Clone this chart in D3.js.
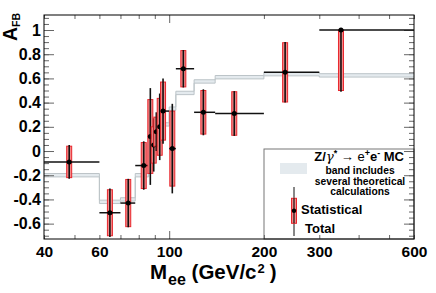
<!DOCTYPE html>
<html>
<head>
<meta charset="utf-8">
<script src="https://cdn.jsdelivr.net/npm/d3@7"></script>
<style>
  body { margin: 0; background: #fff; }
  svg { display: block; font-family: "Liberation Sans", Arial, Helvetica, sans-serif; font-weight: bold; }
</style>
</head>
<body>
<div class="canvas"></div>
<script>
// mass bins (GeV/c^2)
const binLow  = [40, 60, 70, 78, 86, 88, 90, 92, 94, 100, 105, 120, 140, 200, 300]
const binHigh = [60, 70, 78, 86, 88, 90, 92, 94, 100, 105, 120, 140, 200, 300, 600]
// mean mass in each bin (where the point sits)
const massMean = [48.1, 64.8, 74.1, 83.0, 87.1, 89.3, 91.0, 93.3, 95.6, 102.3, 110.9, 128.4, 161, 233.6, 351.6]
// measured A_FB
const afb     = [-0.09, -0.51, -0.43, -0.12, 0.12, 0.05, 0.16, 0.20, 0.33, 0.02, 0.68, 0.32, 0.31, 0.65, 1.0]
const statErr = [0.13, 0.19, 0.195, 0.19, 0.305, 0.15, 0.12, 0.235, 0.24, 0.31, 0.15, 0.18, 0.18, 0.245, 0.5]
const totErr  = [0.14, 0.20, 0.20, 0.20, 0.40, 0.22, 0.16, 0.275, 0.27, 0.37, 0.155, 0.19, 0.185, 0.25, 0.51]
// MC prediction band (centre per bin)
const mcBand  = [-0.20, -0.42, -0.40, -0.20, -0.12, -0.03, 0.05, 0.12, 0.22, 0.35, 0.48, 0.575, 0.61, 0.635, 0.625]
const bandHalf = 0.014

// axis ticks
const yMajor = [-0.6, -0.4, -0.2, 0, 0.2, 0.4, 0.6, 0.8, 1]
const yMinor = d3.range(-0.7, 1.11, 0.05).map(v => +v.toFixed(2))
const xTicks = [40, 50, 60, 70, 80, 90, 100, 200, 300, 400, 500, 600]
const xLabels = [40, 60, 100, 200, 300, 600]

// dimension
const dims = { width: 436, height: 293 }
const margin = { left: 44, top: 15, right: 22, bottom: 54 }
const plotW = dims.width - margin.left - margin.right
const plotH = dims.height - margin.top - margin.bottom

const svg = d3.select('.canvas')
  .append('svg')
  .attr('width', dims.width)
  .attr('height', dims.height)

const x = d3.scaleLog().domain([40, 600]).range([margin.left, margin.left + plotW])
const y = d3.scaleLinear().domain([-0.727, 1.124]).range([margin.top + plotH, margin.top])

const points = massMean.map((m, i) => ({
  m, lo: binLow[i], hi: binHigh[i], v: afb[i], stat: statErr[i], tot: totErr[i]
}))

// MC band as a step shape
const stepPts = []
binLow.forEach((lo, i) => {
  stepPts.push({ m: lo, v: mcBand[i] })
  stepPts.push({ m: binHigh[i], v: mcBand[i] })
})

const band = svg.append('g')
band.append('path')
  .datum(stepPts)
  .attr('fill', '#e4eaee')
  .attr('d', d3.area().x(d => x(d.m)).y0(d => y(d.v - bandHalf)).y1(d => y(d.v + bandHalf)))
;[bandHalf, -bandHalf].forEach(off => {
  band.append('path')
    .datum(stepPts)
    .attr('fill', 'none')
    .attr('stroke', '#bcc4c8')
    .attr('stroke-width', 1)
    .attr('d', d3.line().x(d => x(d.m)).y(d => y(d.v + off)))
})

// legend box (drawn under the frame)
const legend = svg.append('g')
legend.append('rect')
  .attr('x', 264).attr('y', 149)
  .attr('width', margin.left + plotW - 264).attr('height', margin.top + plotH - 149)
  .attr('fill', '#fff').attr('stroke', '#777').attr('stroke-width', 1)

// axes: ticks inside the frame
const fmt = d => String(+d.toFixed(1))
const yAxisL = svg.append('g').attr('transform', `translate(${margin.left},0)`)
  .call(d3.axisLeft(y).tickValues(yMajor).tickSize(-10).tickPadding(3).tickFormat(fmt))
yAxisL.append('g')
  .call(d3.axisLeft(y).tickValues(yMinor).tickSize(-5).tickFormat(''))
const yAxisR = svg.append('g').attr('transform', `translate(${margin.left + plotW},0)`)
  .call(d3.axisRight(y).tickValues(yMajor).tickSize(-10).tickFormat(''))
yAxisR.append('g')
  .call(d3.axisRight(y).tickValues(yMinor).tickSize(-5).tickFormat(''))

const xAxisB = svg.append('g').attr('transform', `translate(0,${margin.top + plotH})`)
  .call(d3.axisBottom(x).tickValues(xTicks).tickSize(-4).tickPadding(7)
    .tickFormat(d => xLabels.includes(d) ? d : ''))
const xAxisT = svg.append('g').attr('transform', `translate(0,${margin.top})`)
  .call(d3.axisTop(x).tickValues(xTicks).tickSize(-4).tickFormat(''))
;[xAxisB, xAxisT].forEach(g => {
  g.selectAll('.tick line').filter(d => d === 100).attr('y2', g === xAxisB ? -8 : 8)
})

svg.selectAll('.domain').remove()
svg.selectAll('.tick line').attr('stroke', '#666')
yAxisL.selectAll('text').attr('font-size', 16).attr('font-weight', 'bold')
  .attr('font-family', '"Liberation Sans", Arial, sans-serif').attr('fill', '#000')
xAxisB.selectAll('text').attr('font-size', 15.5).attr('font-weight', 'bold')
  .attr('font-family', '"Liberation Sans", Arial, sans-serif').attr('fill', '#000')

// frame
svg.append('rect')
  .attr('x', margin.left).attr('y', margin.top)
  .attr('width', plotW).attr('height', plotH)
  .attr('fill', 'none').attr('stroke', '#000').attr('stroke-width', 1)

// data points
const pts = svg.append('g')
  .selectAll('g')
  .data(points)
  .enter().append('g')

pts.append('rect')
  .attr('x', d => x(d.m) - 2.5)
  .attr('width', 5)
  .attr('y', d => y(Math.min(d.v + d.stat, 1)))
  .attr('height', d => y(d.v - d.stat) - y(Math.min(d.v + d.stat, 1)))
  .attr('fill', '#f28a8a')
  .attr('stroke', '#e8262c')
  .attr('stroke-width', 1)

pts.append('line')
  .attr('x1', d => x(d.m)).attr('x2', d => x(d.m))
  .attr('y1', d => y(Math.min(d.v + d.tot, 1)))
  .attr('y2', d => y(d.v - d.tot))
  .attr('stroke', '#111').attr('stroke-width', 1.6)

pts.append('line')
  .attr('x1', d => x(d.lo)).attr('x2', d => x(d.hi))
  .attr('y1', d => y(d.v)).attr('y2', d => y(d.v))
  .attr('stroke', '#111').attr('stroke-width', 1.5)

pts.append('circle')
  .attr('cx', d => x(d.m)).attr('cy', d => y(d.v))
  .attr('r', 2.5).attr('fill', '#000')

// legend contents
legend.append('rect')
  .attr('x', 280).attr('y', 163).attr('width', 27).attr('height', 11)
  .attr('fill', '#e4eaee')

const zText = legend.append('text')
  .attr('x', 404).attr('y', 161).attr('text-anchor', 'end').attr('font-size', 13)
zText.append('tspan').text('Z/')
zText.append('tspan').attr('font-weight', 'normal').attr('font-family', '"DejaVu Serif", serif').attr('font-style', 'italic').text('γ')
zText.append('tspan').attr('font-size', 9).attr('dy', -5).text('*')
zText.append('tspan').attr('dy', 5).attr('font-weight', 'normal').text(' → e')
zText.append('tspan').attr('font-size', 9).attr('dy', -5).text('+')
zText.append('tspan').attr('dy', 5).text('e')
zText.append('tspan').attr('font-size', 9).attr('dy', -5).text('-')
zText.append('tspan').attr('dy', 5).text(' MC')

const bandLines = ['band includes', 'several theoretical', 'calculations']
const bandY = [174, 184.5, 194.5]
legend.selectAll('text.band')
  .data(bandLines)
  .enter().append('text')
  .attr('class', 'band')
  .attr('x', 360).attr('y', (d, i) => bandY[i])
  .attr('text-anchor', 'middle').attr('font-size', 10.3)
  .text(d => d)

legend.append('line')
  .attr('x1', 294).attr('x2', 294).attr('y1', 187).attr('y2', 236)
  .attr('stroke', '#111').attr('stroke-width', 1)
legend.append('rect')
  .attr('x', 291.5).attr('y', 198.3).attr('width', 5).attr('height', 25)
  .attr('fill', '#f28a8a').attr('stroke', '#e8262c').attr('stroke-width', 1)
legend.append('line')
  .attr('x1', 294).attr('x2', 294).attr('y1', 198.3).attr('y2', 223.3)
  .attr('stroke', '#111').attr('stroke-width', 1.2)
legend.append('circle')
  .attr('cx', 294).attr('cy', 210.7).attr('r', 2.2).attr('fill', '#000')
legend.append('text').attr('x', 301).attr('y', 214).attr('font-size', 13).text('Statistical')
legend.append('text').attr('x', 305).attr('y', 233).attr('font-size', 13).text('Total')

// axis titles
const xTitle = svg.append('text').attr('x', 150).attr('y', 279).attr('font-size', 20.5)
xTitle.append('tspan').text('M')
xTitle.append('tspan').attr('font-size', 16).attr('dx', 1).attr('dy', 6).text('ee')
xTitle.append('tspan').attr('dy', -6).text(' (GeV/c')
xTitle.append('tspan').attr('font-size', 13).attr('dx', 1).attr('dy', -6).text('2')
xTitle.append('tspan').attr('dx', 5).attr('dy', 6).text(')')

const yTitle = svg.append('text')
  .attr('transform', 'translate(17,13) rotate(-90)')
  .attr('text-anchor', 'end').attr('font-size', 19.5)
yTitle.append('tspan').text('A')
yTitle.append('tspan').attr('font-size', 10.5).attr('dy', 3).text('FB')
</script>
</body>
</html>
